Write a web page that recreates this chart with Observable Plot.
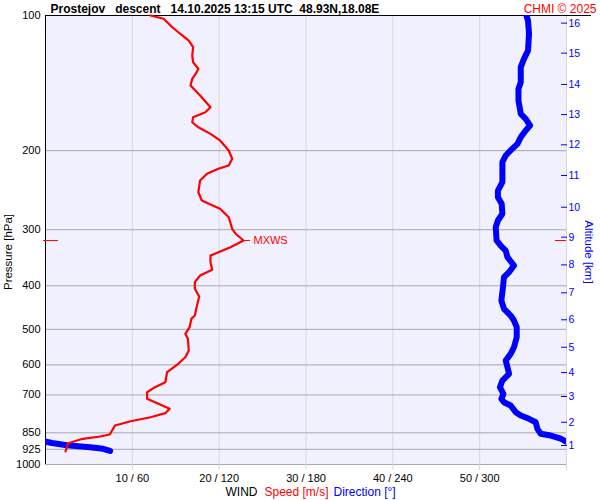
<!DOCTYPE html>
<html>
<head>
<meta charset="utf-8">
<script src="https://cdn.jsdelivr.net/npm/d3@7"></script>
<script src="https://cdn.jsdelivr.net/npm/@observablehq/plot@0.6"></script>
<style>
  body { margin: 0; background: white; }
  svg text { white-space: pre; }
</style>
</head>
<body>
<div id="chart"></div>
<script>
// ---- data ----
const titleText = "Prostejov   descent   14.10.2025 13:15 UTC  48.93N,18.08E";
const creditText = "CHMI \u00a9 2025";
const pressureTicks = [100, 200, 300, 400, 500, 600, 700, 850, 925, 1000];
const speedTicks = [10, 20, 30, 40, 50, 60];
const speedTickLabels = ["10 / 60", "20 / 120", "30 / 180", "40 / 240", "50 / 300", ""];
const altitudeKm = [1, 2, 3, 4, 5, 6, 7, 8, 9, 10, 11, 12, 13, 14, 15, 16];
const altitudePressure = [907.1, 805.3, 705.6, 624.1, 548.1, 476.1, 414.6, 359.3, 311.7, 267.3, 227.2, 194.1, 166.2, 142.4, 121.3, 104.0];

const speedPressure = [100, 101.7, 106.2, 109.8, 113.7, 117.6, 122.8, 127.1, 131.4, 133.8,
  138.4, 143.2, 150.7, 160.1, 164.3, 168.5, 172.9, 177.4, 183.5, 189.8,
  199.8, 208.5, 215.8, 219.5, 225.2, 233.1, 247.5, 258.2, 263.6, 269.5,
  281.4, 298.6, 306.3, 317.0, 328.1, 342.4, 354.3, 368.4, 379.4, 392.6,
  406.1, 422.5, 446.3, 465.8, 473.7, 494.6, 511.7, 524.8, 557.4, 576.8,
  596.7, 623.0, 655.7, 672.7, 690.2, 714.0, 732.5, 751.4, 768.6, 784.7,
  801.0, 818.8, 857.5, 866.3, 876.6, 896.7, 935.4];
const speedValues = [12.1, 13.6, 14.6, 15.5, 16.5, 17.0, 16.9, 17.0, 17.6, 17.4,
  16.9, 16.7, 17.8, 19.0, 18.4, 17.0, 16.9, 17.6, 19.0, 20.1,
  21.1, 21.5, 21.1, 19.9, 18.6, 17.8, 17.6, 18.0, 19.0, 20.1,
  21.1, 21.5, 21.9, 22.8, 21.3, 19.0, 19.0, 19.2, 17.8, 17.2,
  17.2, 17.7, 17.4, 17.2, 16.8, 16.6, 16.1, 16.4, 16.5, 16.1,
  15.3, 14.0, 13.8, 12.6, 11.7, 11.7, 13.0, 14.3, 13.8, 12.1,
  9.8, 8.0, 7.4, 6.3, 4.3, 2.6, 2.3];

const dirPressure = [100, 102.6, 109.8, 119.7, 124.9, 130.3, 140.8, 145.7, 154.7, 165.6,
  169.9, 175.8, 180.4, 186.6, 193.1, 199.8, 205.0, 212.1, 225.2, 235.1,
  245.4, 254.0, 262.7, 276.4, 286.1, 296.1, 317.0, 325.3, 333.8, 345.4,
  360.5, 373.0, 382.7, 402.9, 431.3, 450.1, 465.8, 477.9, 494.6, 520.6,
  548.1, 567.0, 586.7, 607.4, 628.1, 650.1, 672.7, 696.0, 714.0, 726.5,
  739.0, 764.7, 777.9, 791.1, 805.1, 832.8, 854.4, 861.9, 875.2, 888.9,
  895.6, 905.8, 915.1, 922.6, 933.0];
const dirValues = [332.3, 333.4, 334.1, 333.4, 330.6, 328.4, 328.4, 326.8, 326.8, 328.4,
  331.8, 334.8, 331.8, 328.4, 326.1, 321.4, 318.0, 315.7, 315.7, 315.7,
  312.6, 312.6, 315.2, 315.7, 312.6, 311.1, 311.7, 314.5, 318.0, 319.2,
  323.7, 320.3, 316.8, 316.1, 315.0, 316.8, 321.4, 323.7, 325.6, 325.6,
  323.7, 321.4, 318.0, 319.2, 320.3, 315.7, 314.0, 316.4, 315.0, 316.8,
  321.4, 324.9, 328.4, 334.1, 338.7, 339.9, 342.2, 349.1, 356.0, 359.5,
  4.5, 14.7, 30.8, 39.8, 44.6];

const mxwsPressure = 317.0;
const mxwsSpeed = 22.8;

// ---- build tables ----
const speedData = speedPressure.map((p, i) => ({p, s: speedValues[i]}));
let prev = null, off = 0;
const dirData = dirPressure.map((p, i) => {
  let d = dirValues[i] + off;
  if (prev !== null) {
    if (d - prev < -180) { off += 360; d += 360; }
    else if (d - prev > 180) { off -= 360; d -= 360; }
  }
  prev = d;
  return {p, u: d};
});
const altLabel = new Map(altitudePressure.map((p, i) => [p, String(altitudeKm[i])]));
const speedLabel = new Map(speedTicks.map((t, i) => [t, speedTickLabels[i]]));

const RED = "#ff0000", BLUE = "#0000ff";
const FONT = '"Liberation Sans", Arial, sans-serif';

const chart = Plot.plot({
  width: 600,
  height: 500,
  marginTop: 15,
  marginBottom: 36,
  marginLeft: 45,
  marginRight: 34,
  style: {fontFamily: FONT, fontSize: "11px", background: "white", overflow: "visible"},
  x: {domain: [0, 60], axis: null},
  y: {type: "log", domain: [100, 1000], reverse: true, axis: null},
  marks: [
    Plot.frame({fill: "#f0f0ff", stroke: null}),
    Plot.ruleX(speedTicks, {stroke: "#d6d6d6", strokeWidth: 1}),
    Plot.ruleY(pressureTicks.filter(p => p !== 100), {stroke: "#a8a8a8", strokeWidth: 1}),
    Plot.axisX(speedTicks, {anchor: "bottom", tickSize: 6, tickPadding: 4, stroke: "#d6d6d6", fill: "black",
      fontSize: 11, tickFormat: d => speedLabel.get(d), label: null}),
    Plot.axisY(pressureTicks, {anchor: "left", tickSize: 0, tickPadding: 5, fill: "black", fontSize: 11,
      tickFormat: d => String(d), label: null}),
    Plot.axisY(altitudePressure, {anchor: "right", tickSize: -6, tickPadding: 8, stroke: BLUE, fill: BLUE,
      fontSize: 10.5, tickFormat: d => altLabel.get(d), label: null}),
    Plot.ruleX([0], {stroke: "black", strokeWidth: 1}),
    Plot.ruleY([100], {stroke: "black", strokeWidth: 1.2, insetRight: -25}),
    // max wind level markers
    Plot.ruleY([mxwsPressure], {stroke: RED, strokeWidth: 1, insetLeft: -2, insetRight: 508}),
    Plot.ruleY([mxwsPressure], {stroke: RED, strokeWidth: 1, insetLeft: 510}),
    Plot.ruleY([{p: mxwsPressure, s: mxwsSpeed}], {y: "p", x1: "s", x2: "s", stroke: RED, strokeWidth: 1, insetRight: -7}),
    Plot.text([{p: mxwsPressure, s: mxwsSpeed}], {y: "p", x: "s", text: () => "MXWS", dx: 10, textAnchor: "start",
      fill: RED, fontSize: 11}),
    // wind direction (degrees / 6 on the shared axis), drawn twice to wrap through north
    Plot.line(dirData, {x: d => d.u / 6, y: "p", stroke: BLUE, strokeWidth: 6, strokeLinejoin: "round",
      strokeLinecap: "round", clip: true}),
    Plot.line(dirData, {x: d => (d.u - 360) / 6, y: "p", stroke: BLUE, strokeWidth: 6, strokeLinejoin: "round",
      strokeLinecap: "round", clip: true}),
    // wind speed
    Plot.line(speedData, {x: "s", y: "p", stroke: RED, strokeWidth: 2.2, strokeLinejoin: "round"}),
    // texts
    Plot.text([titleText], {frameAnchor: "top-left", dx: 5, dy: -3, lineAnchor: "bottom", textAnchor: "start",
      fontWeight: "bold", fontSize: 12, fill: "black"}),
    Plot.text([creditText], {frameAnchor: "top-right", dx: 30, dy: -3, lineAnchor: "bottom", textAnchor: "end",
      fontSize: 12, fill: RED}),
    Plot.text(["Pressure [hPa]"], {frameAnchor: "left", dx: -37, dy: 12, rotate: -90, textAnchor: "middle",
      fontSize: 11.5, fill: "black"}),
    Plot.text(["Altitude [km]"], {frameAnchor: "right", dx: 22, dy: 12, rotate: 90, textAnchor: "middle",
      fontSize: 11.5, fill: BLUE}),
    Plot.text(["WIND"], {frameAnchor: "bottom-left", dx: 180, dy: 31, lineAnchor: "bottom", textAnchor: "start",
      fontSize: 12, fill: "black"}),
    Plot.text(["Speed [m/s]"], {frameAnchor: "bottom-left", dx: 219, dy: 31, lineAnchor: "bottom", textAnchor: "start",
      fontSize: 12, fill: RED}),
    Plot.text(["Direction [\u00b0]"], {frameAnchor: "bottom-left", dx: 288, dy: 31, lineAnchor: "bottom", textAnchor: "start",
      fontSize: 12, fill: BLUE})
  ]
});
document.getElementById("chart").appendChild(chart);
</script>
</body>
</html>
